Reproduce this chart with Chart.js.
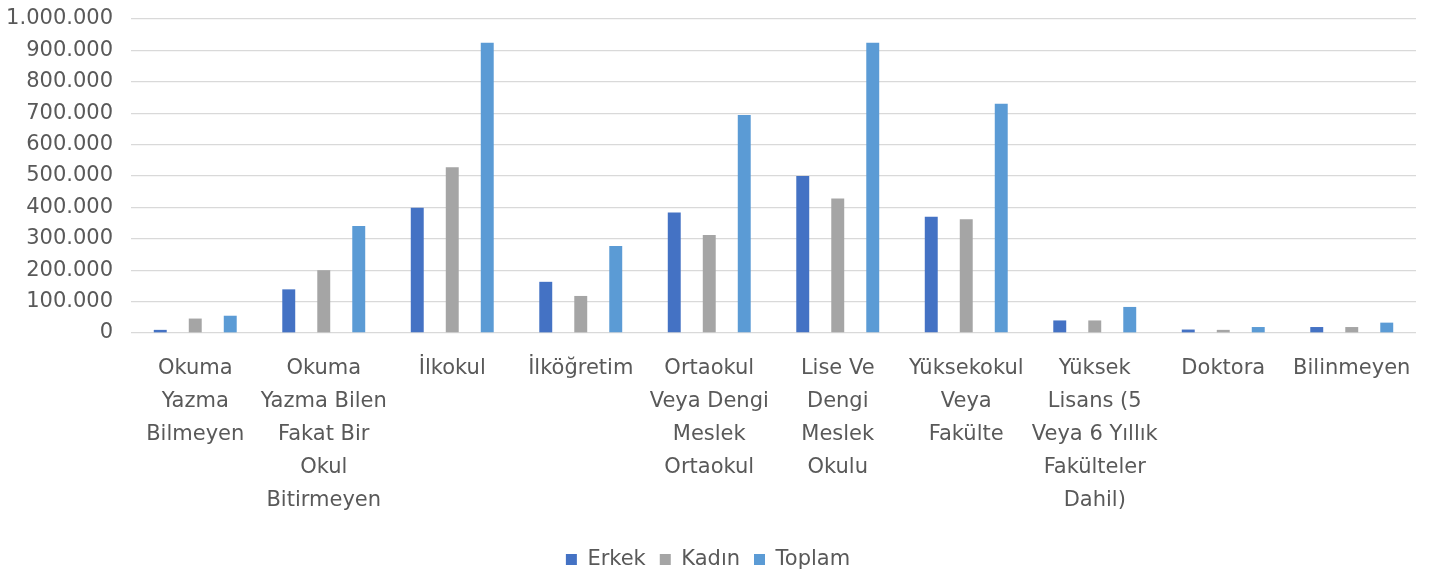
<!DOCTYPE html>
<html>
<head>
<meta charset="utf-8">
<script src="https://cdn.jsdelivr.net/npm/chart.js@4/dist/chart.umd.min.js"></script>
<style>
  html, body { margin: 0; padding: 0; background: #fff; }
  #wrap { width: 1447px; height: 580px; }
</style>
</head>
<body>
<div id="wrap"><canvas id="eduChart" width="1447" height="580"></canvas></div>
<script>
// --- Data ---
const categories = [
  ['Okuma', 'Yazma', 'Bilmeyen'],
  ['Okuma', 'Yazma Bilen', 'Fakat Bir', 'Okul', 'Bitirmeyen'],
  ['İlkokul'],
  ['İlköğretim'],
  ['Ortaokul', 'Veya Dengi', 'Meslek', 'Ortaokul'],
  ['Lise Ve', 'Dengi', 'Meslek', 'Okulu'],
  ['Yüksekokul', 'Veya', 'Fakülte'],
  ['Yüksek', 'Lisans (5', 'Veya 6 Yıllık', 'Fakülteler', 'Dahil)'],
  ['Doktora'],
  ['Bilinmeyen']
];
const erkek  = [10000, 139000, 399000, 163000, 384000, 500000, 370000, 40000, 11000, 19000];
const kadin  = [46000, 200000, 528000, 118000, 312000, 428000, 362000, 40000, 10000, 19000];
const toplam = [55000, 341000, 924000, 277000, 694000, 924000, 730000, 83000, 19000, 33000];

const textColor = '#595959';
const fontFamily = '"DejaVu Sans", sans-serif';

// Turkish thousands separator
function fmt(v) {
  return String(v).replace(/\B(?=(\d{3})+(?!\d))/g, '.');
}

const ctx = document.getElementById('eduChart').getContext('2d');
new Chart(ctx, {
  type: 'bar',
  data: {
    labels: categories,
    datasets: [
      { label: 'Erkek', data: erkek, backgroundColor: '#4472C4' },
      { label: 'Kadın', data: kadin, backgroundColor: '#A5A5A5' },
      { label: 'Toplam', data: toplam, backgroundColor: '#5B9BD5' }
    ]
  },
  options: {
    responsive: false,
    animation: false,
    devicePixelRatio: 1,
    layout: { padding: { top: 17, right: 31, bottom: 0, left: 0 } },
    datasets: {
      bar: { categoryPercentage: 0.817, barPercentage: 0.37 }
    },
    scales: {
      x: {
        grid: { display: false },
        border: { display: false },
        ticks: {
          color: textColor,
          font: { family: fontFamily, size: 21, lineHeight: '33px' },
          padding: 11,
          maxRotation: 0,
          autoSkip: false
        },
        afterFit: (axis) => { axis.height = 202; }
      },
      y: {
        min: 0,
        max: 1000000,
        grid: { color: '#D9D9D9', lineWidth: 1.3, drawTicks: false },
        border: { display: false },
        ticks: {
          stepSize: 100000,
          color: textColor,
          font: { family: fontFamily, size: 21, lineHeight: '2px' },
          padding: 18,
          callback: (v) => fmt(v)
        },
        afterFit: (axis) => { axis.width = 131; }
      }
    },
    plugins: {
      tooltip: { enabled: false },
      legend: {
        position: 'bottom',
        labels: {
          color: textColor,
          font: { family: fontFamily, size: 21 },
          boxWidth: 11,
          boxHeight: 11,
          padding: 14
        }
      }
    }
  }
});
</script>
</body>
</html>
